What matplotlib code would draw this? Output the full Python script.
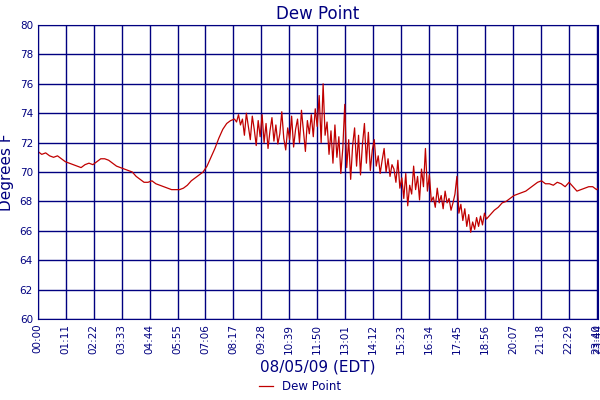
import numpy as np
import matplotlib
matplotlib.use("Agg")
import matplotlib.pyplot as plt

calm1_t = list(range(0, 501, 10))
calm1_v = [71.4,71.2,71.3,71.1,71.0,71.1,70.9,70.7,70.6,70.5,70.4,70.3,70.5,70.6,70.5,70.7,70.9,70.9,70.8,70.6,
           70.4,70.3,70.2,70.1,70.0,69.7,69.5,69.3,69.3,69.4,69.2,69.1,69.0,68.9,68.8,68.8,68.8,68.9,69.1,69.4,
           69.6,69.8,70.0,70.4,71.0,71.6,72.3,72.9,73.3,73.5,73.6]
noisy_t = list(range(505, 1141, 5))
noisy_v = [73.4,73.9,73.2,73.6,72.5,74.0,73.1,72.2,73.8,72.9,71.8,73.5,72.4,73.9,72.0,73.3,71.6,72.8,73.7,72.1,
           73.2,71.9,72.6,74.1,72.3,71.5,73.0,72.2,73.8,71.7,72.9,73.6,72.0,74.2,72.8,71.4,73.5,72.6,73.9,72.4,
           74.3,73.1,75.2,72.0,76.0,72.5,73.4,71.2,72.8,70.6,73.2,71.0,72.4,69.9,71.6,74.6,70.3,72.2,69.5,71.8,
           73.0,70.4,72.5,69.8,71.9,73.3,70.6,72.7,70.1,71.5,72.2,70.4,71.1,69.9,70.8,71.6,70.0,70.9,69.7,70.5,
           70.2,69.3,70.8,68.9,69.6,68.2,69.9,67.7,69.1,68.5,70.4,68.8,69.7,68.1,70.2,69.0,71.6,68.7,69.8,68.0,
           68.3,67.6,68.9,67.9,68.4,67.5,68.7,67.9,68.2,67.4,67.9,68.5,69.7,67.2,67.8,66.7,67.5,66.3,67.1,65.9,
           66.6,66.1,66.9,66.3,67.0,66.4,67.2,66.8]
calm2_t = list(range(1150, 1421, 10)) + [1424]
calm2_v = [67.1,67.4,67.6,67.9,68.0,68.2,68.4,68.5,68.6,68.7,68.9,69.1,69.3,69.4,69.2,69.2,69.1,69.3,69.2,69.0,
           69.3,69.0,68.7,68.8,68.9,69.0,69.0,68.8,68.9]

tick_minutes = list(range(0, 1421, 71)) + [1424]
tick_labels = ["%02d:%02d" % (m // 60, m % 60) for m in tick_minutes]

times = calm1_t + noisy_t + calm2_t
values = calm1_v + noisy_v + calm2_v

navy = "#000080"
fig = plt.figure(figsize=(6, 4), dpi=100)
ax = fig.add_axes([0.063, 0.2025, 0.934, 0.735])
ax.plot(times, values, color="#c00000", lw=0.9, label="Dew Point")
ax.set_xlim(0, 1424)
ax.set_ylim(60, 80)
ax.set_yticks(range(60, 81, 2))
ax.set_xticks(tick_minutes)
ax.set_xticklabels(tick_labels, rotation=90, fontsize=7.5, color=navy)
ax.tick_params(axis="y", labelsize=7.5, labelcolor=navy, length=0)
ax.tick_params(axis="x", length=0)
ax.grid(True, color=navy, lw=1)
for s in ax.spines.values():
    s.set_color(navy)
ax.set_title("Dew Point", color=navy, fontsize=12, pad=4)
ax.set_ylabel("Degrees F", color=navy, fontsize=11, labelpad=4)
ax.set_xlabel("08/05/09 (EDT)", color=navy, fontsize=11, labelpad=4)
fig.legend(loc="lower center", bbox_to_anchor=(0.5, -0.01), frameon=False, fontsize=8.5,
           handlelength=1.2, labelcolor=navy)
fig.savefig("out.png", dpi=100)
